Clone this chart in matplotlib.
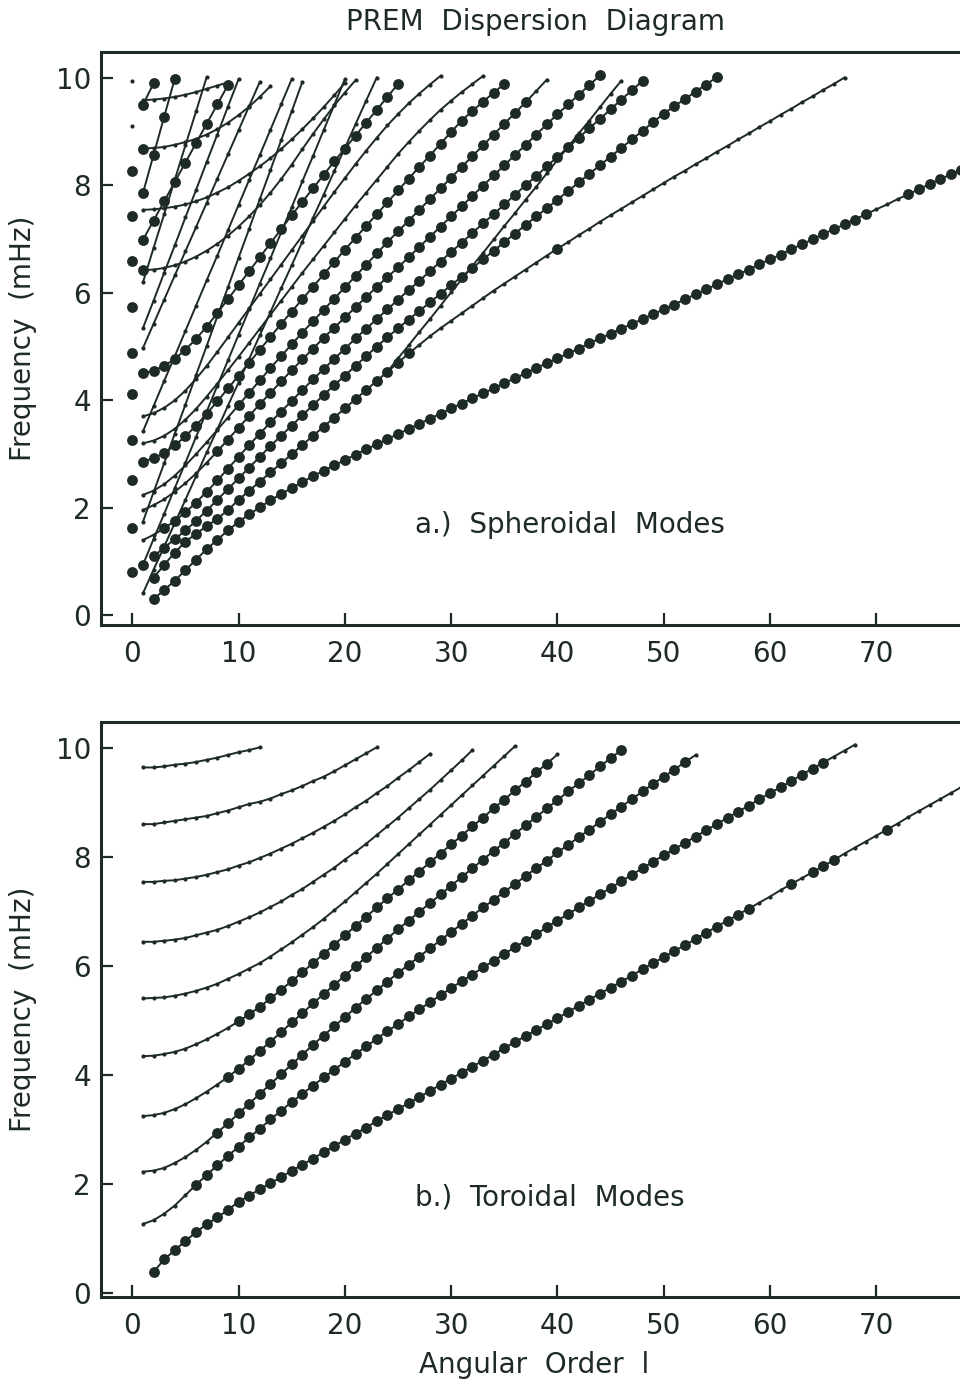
import matplotlib.pyplot as plt
import numpy as np

INK = '#1e2a26'
plt.rcParams['font.family'] = ['DejaVu Sans']

# ---------------- toroidal modes nT_l (mHz), values at consecutive l ----------------
T0_l0 = 2
T0 = [0.38, 0.61, 0.78, 0.95, 1.11, 1.26, 1.38, 1.52, 1.67, 1.78, 1.90, 2.01, 2.12, 2.24,
      2.35, 2.46, 2.58, 2.69, 2.81, 2.92, 3.03, 3.15, 3.26, 3.37, 3.48, 3.59, 3.70, 3.82,
      3.93, 4.04, 4.15, 4.26, 4.37, 4.49, 4.60, 4.71, 4.82, 4.93, 5.04, 5.15, 5.27, 5.38,
      5.49, 5.60, 5.71, 5.82, 5.94, 6.05, 6.16, 6.27, 6.38, 6.49, 6.61, 6.72, 6.83, 6.94,
      7.05, 7.16, 7.27, 7.39, 7.50, 7.61, 7.72, 7.83, 7.94, 8.06, 8.17, 8.28, 8.39, 8.50,
      8.61, 8.73, 8.84, 8.95, 9.06, 9.17, 9.28]
T1 = [1.26, 1.33, 1.45, 1.60, 1.79, 1.98, 2.16, 2.34, 2.51, 2.68, 2.85, 3.01, 3.18, 3.34,
      3.50, 3.65, 3.80, 3.95, 4.09, 4.24, 4.38, 4.52, 4.66, 4.80, 4.93, 5.07, 5.20, 5.33,
      5.46, 5.59, 5.72, 5.84, 5.97, 6.09, 6.22, 6.34, 6.46, 6.58, 6.71, 6.83, 6.95, 7.07,
      7.19, 7.31, 7.43, 7.55, 7.67, 7.79, 7.91, 8.03, 8.14, 8.26, 8.37, 8.49, 8.60, 8.72,
      8.83, 8.94, 9.06, 9.17, 9.28, 9.39, 9.51, 9.62, 9.73, 9.84, 9.95, 10.06]
T2 = [2.22, 2.24, 2.29, 2.38, 2.49, 2.62, 2.77, 2.94, 3.11, 3.29, 3.47, 3.65, 3.83, 4.01,
      4.19, 4.37, 4.55, 4.72, 4.89, 5.06, 5.23, 5.39, 5.55, 5.71, 5.87, 6.02, 6.17, 6.32,
      6.47, 6.62, 6.77, 6.92, 7.07, 7.21, 7.36, 7.50, 7.65, 7.79, 7.93, 8.08, 8.22, 8.36,
      8.50, 8.64, 8.78, 8.92, 9.06, 9.20, 9.34, 9.47, 9.60, 9.74, 9.87]
T3 = [3.24, 3.26, 3.30, 3.37, 3.46, 3.57, 3.69, 3.82, 3.96, 4.11, 4.27, 4.44, 4.61, 4.78,
      4.96, 5.13, 5.31, 5.48, 5.65, 5.82, 5.99, 6.16, 6.33, 6.50, 6.67, 6.83, 6.99, 7.15,
      7.31, 7.47, 7.63, 7.79, 7.95, 8.11, 8.26, 8.42, 8.58, 8.73, 8.89, 9.04, 9.20, 9.35,
      9.50, 9.66, 9.81, 9.96]
T4 = [4.34, 4.35, 4.38, 4.42, 4.48, 4.56, 4.65, 4.75, 4.86, 4.98, 5.11, 5.25, 5.40, 5.56,
      5.72, 5.88, 6.05, 6.22, 6.39, 6.56, 6.73, 6.90, 7.07, 7.24, 7.40, 7.57, 7.73, 7.90,
      8.06, 8.23, 8.39, 8.56, 8.72, 8.89, 9.05, 9.22, 9.38, 9.55, 9.71, 9.88]
T5 = [5.40, 5.41, 5.42, 5.45, 5.49, 5.54, 5.60, 5.67, 5.76, 5.85, 5.95, 6.05, 6.17, 6.30,
      6.43, 6.57, 6.71, 6.86, 7.02, 7.18, 7.35, 7.52, 7.69, 7.87, 8.05, 8.23, 8.41, 8.59,
      8.77, 8.95, 9.13, 9.31, 9.49, 9.67, 9.85, 10.03]
T6 = [6.44, 6.44, 6.46, 6.48, 6.51, 6.56, 6.61, 6.66, 6.73, 6.81, 6.89, 6.98, 7.08, 7.18,
      7.30, 7.41, 7.54, 7.67, 7.80, 7.95, 8.09, 8.24, 8.40, 8.56, 8.72, 8.89, 9.06, 9.23,
      9.41, 9.59, 9.77, 9.96]
T7 = [7.54, 7.54, 7.56, 7.57, 7.60, 7.63, 7.67, 7.72, 7.77, 7.84, 7.90, 7.98, 8.06, 8.15,
      8.24, 8.34, 8.44, 8.55, 8.66, 8.78, 8.91, 9.03, 9.17, 9.30, 9.45, 9.59, 9.74, 9.89]
T8 = [8.60, 8.60, 8.63, 8.66, 8.69, 8.72, 8.75, 8.80, 8.85, 8.91, 8.97, 9.01, 9.07, 9.15,
      9.22, 9.30, 9.39, 9.47, 9.57, 9.68, 9.79, 9.90, 10.01]
T9 = [9.64, 9.64, 9.66, 9.69, 9.71, 9.74, 9.78, 9.82, 9.87, 9.92, 9.96, 10.01]
# ranges of l drawn with a large dot
T0_big = [(2, 58), (62, 62), (64, 66), (71, 71)]
T1_big = [(6, 65)]
T2_big = [(8, 52)]
T3_big = [(9, 46)]
T4_big = [(10, 39)]

# ---------------- spheroidal modes nS_l (mHz) ----------------
S_radial = [0.81, 1.63, 2.51, 3.27, 4.11, 4.88, 5.74, 6.59, 7.42, 8.26, 9.09, 9.93]
S_radial_big = [1, 1, 1, 1, 1, 1, 1, 1, 1, 1, 0, 0]
S0 = [0.31, 0.47, 0.65, 0.84, 1.04, 1.23, 1.41, 1.58, 1.74, 1.88, 2.01, 2.14, 2.26, 2.37,
      2.48, 2.59, 2.69, 2.79, 2.89, 2.99, 3.09, 3.18, 3.28, 3.37, 3.47, 3.56, 3.66, 3.75,
      3.85, 3.94, 4.04, 4.13, 4.22, 4.32, 4.41, 4.50, 4.60, 4.69, 4.78, 4.87, 4.96, 5.06,
      5.15, 5.24, 5.33, 5.42, 5.51, 5.60, 5.69, 5.78, 5.88, 5.97, 6.06, 6.16, 6.25, 6.34,
      6.43, 6.53, 6.62, 6.71, 6.81, 6.90, 6.99, 7.09, 7.18, 7.27, 7.36, 7.46, 7.55, 7.64,
      7.74, 7.83, 7.92, 8.02, 8.11, 8.20, 8.29]
# mantle overtone branches (Rayleigh-like)
R1 = [0.70, 0.94, 1.17, 1.37, 1.52, 1.66, 1.80, 1.96, 2.15, 2.32, 2.49, 2.66, 2.83, 3.00,
      3.17, 3.34, 3.51, 3.68, 3.85, 4.02, 4.19, 4.36, 4.53, 4.70, 4.87, 5.03, 5.19, 5.34,
      5.48, 5.62, 5.76, 5.90, 6.04, 6.17, 6.30, 6.43, 6.56, 6.69, 6.82, 6.94, 7.07, 7.19,
      7.32, 7.44, 7.56, 7.68, 7.80, 7.92, 8.04, 8.16, 8.27, 8.39, 8.50, 8.62, 8.73, 8.85,
      8.96, 9.08, 9.19, 9.31, 9.42, 9.54, 9.65, 9.77, 9.88, 10.00]
R2 = [1.10, 1.26, 1.42, 1.58, 1.76, 1.95, 2.15, 2.35, 2.55, 2.75, 2.95, 3.15, 3.34, 3.53,
      3.72, 3.91, 4.10, 4.28, 4.46, 4.64, 4.82, 5.00, 5.17, 5.34, 5.50, 5.66, 5.82, 5.98,
      6.14, 6.30, 6.46, 6.62, 6.78, 6.94, 7.10, 7.26, 7.42, 7.57, 7.73, 7.89, 8.05, 8.21,
      8.37, 8.53, 8.69, 8.85, 9.01, 9.17, 9.33, 9.47, 9.60, 9.74, 9.87, 10.01]
R3 = [1.40, 1.50, 1.62, 1.76, 1.92, 2.10, 2.30, 2.51, 2.73, 2.95, 3.17, 3.38, 3.59, 3.79,
      3.99, 4.19, 4.39, 4.58, 4.77, 4.96, 5.15, 5.33, 5.51, 5.69, 5.87, 6.05, 6.22, 6.40,
      6.58, 6.76, 6.93, 7.11, 7.29, 7.46, 7.64, 7.82, 8.00, 8.17, 8.35, 8.53, 8.70, 8.88,
      9.06, 9.23, 9.41, 9.59, 9.76, 9.94]
R4 = [1.96, 2.05, 2.16, 2.30, 2.46, 2.64, 2.84, 3.05, 3.27, 3.49, 3.71, 3.93, 4.14, 4.35,
      4.56, 4.76, 4.96, 5.16, 5.35, 5.54, 5.73, 5.92, 6.11, 6.29, 6.47, 6.66, 6.85, 7.04,
      7.23, 7.42, 7.61, 7.80, 7.99, 8.18, 8.37, 8.56, 8.75, 8.94, 9.13, 9.32, 9.50, 9.68,
      9.86, 10.04]
R5 = [2.24, 2.32, 2.44, 2.60, 2.79, 3.00, 3.22, 3.45, 3.68, 3.91, 4.14, 4.37, 4.60, 4.82,
      5.04, 5.26, 5.47, 5.68, 5.89, 6.10, 6.31, 6.52, 6.73, 6.94, 7.14, 7.34, 7.54, 7.74,
      7.94, 8.14, 8.34, 8.54, 8.74, 8.94, 9.14, 9.34, 9.54, 9.75, 9.96]
R6 = [2.86, 2.92, 3.02, 3.16, 3.33, 3.53, 3.75, 3.98, 4.22, 4.46, 4.70, 4.94, 5.18, 5.42,
      5.65, 5.88, 6.11, 6.34, 6.57, 6.80, 7.02, 7.24, 7.46, 7.68, 7.90, 8.12, 8.34, 8.55,
      8.77, 8.99, 9.20, 9.38, 9.55, 9.72, 9.88]
R7 = [3.20, 3.25, 3.34, 3.47, 3.64, 3.84, 4.07, 4.31, 4.56, 4.81, 5.07, 5.33, 5.59, 5.85,
      6.11, 6.37, 6.62, 6.87, 7.12, 7.37, 7.62, 7.86, 8.10, 8.34, 8.58, 8.80, 9.01, 9.21,
      9.40, 9.57, 9.73, 9.88, 10.03]
R8 = [3.70, 3.76, 3.86, 4.00, 4.18, 4.40, 4.64, 4.90, 5.17, 5.44, 5.71, 5.98, 6.25, 6.52,
      6.79, 7.06, 7.33, 7.60, 7.87, 8.13, 8.39, 8.64, 8.88, 9.11, 9.32, 9.52, 9.70, 9.87,
      10.03]
R9 = [4.50, 4.55, 4.64, 4.77, 4.94, 5.14, 5.37, 5.62, 5.88, 6.14, 6.40, 6.66, 6.92, 7.18,
      7.44, 7.69, 7.94, 8.19, 8.44, 8.68, 8.92, 9.16, 9.40, 9.64, 9.88]
# straight branch leaving the first overtone near l = 24
F1 = [4.53, 4.78, 5.02, 5.27, 5.51, 5.76, 6.01, 6.25, 6.50, 6.74, 6.99, 7.24, 7.48, 7.73,
      7.97, 8.22, 8.47, 8.71, 8.96, 9.20, 9.45, 9.70, 9.94]
# steep core-sensitive branches
K1 = [0.41, 0.85, 1.28, 1.72, 2.15, 2.59, 3.03, 3.46, 3.90, 4.33, 4.77, 5.21, 5.64, 6.08,
      6.51, 6.95, 7.39, 7.82, 8.26, 8.69, 9.13, 9.57, 10.00]
K2 = [0.94, 1.42, 1.89, 2.37, 2.84, 3.32, 3.79, 4.27, 4.74, 5.22, 5.69, 6.17, 6.64, 7.12,
      7.59, 8.07, 8.54, 9.02, 9.49, 9.97]
K3 = [1.74, 2.29, 2.83, 3.38, 3.92, 4.47, 5.01, 5.56, 6.10, 6.65, 7.19, 7.74, 8.28, 8.83,
      9.37, 9.92]
K4 = [3.42, 3.89, 4.36, 4.82, 5.29, 5.76, 6.23, 6.69, 7.16, 7.63, 8.10, 8.56, 9.03, 9.50,
      9.97]
K5 = [4.97, 5.42, 5.87, 6.32, 6.77, 7.22, 7.67, 8.12, 8.57, 9.02, 9.47, 9.92]
K6 = [5.34, 5.85, 6.37, 6.88, 7.40, 7.91, 8.43, 8.94, 9.46, 9.97]
K7 = [6.19, 6.83, 7.46, 8.10, 8.74, 9.37, 10.01]
K8 = [6.98, 7.34, 7.70, 8.06, 8.42, 8.78, 9.14, 9.50, 9.86]
K9 = [7.85, 8.56, 9.27, 9.98]
K10 = [9.49, 9.89]
# flat shear-like branches
V1 = [7.54, 7.55, 7.57, 7.60, 7.64, 7.70, 7.77, 7.86, 7.96, 8.08, 8.21, 8.35, 8.50, 8.67,
      8.85, 9.04, 9.24, 9.45, 9.67, 9.90]
V2 = [8.68, 8.69, 8.71, 8.75, 8.80, 8.86, 8.94, 9.04, 9.16, 9.30, 9.46, 9.64, 9.84]
V3 = [9.58, 9.59, 9.61, 9.64, 9.68, 9.73, 9.79, 9.85, 9.91]
V4 = [6.42, 6.43, 6.46, 6.51, 6.58, 6.67, 6.78, 6.91, 7.06, 7.23, 7.42, 7.63, 7.86, 8.11,
      8.38, 8.67, 8.95, 9.22, 9.48, 9.72, 9.95]

toroidal = [(T0_l0, T0, T0_big), (1, T1, T1_big), (1, T2, T2_big), (1, T3, T3_big),
            (1, T4, T4_big), (1, T5, []), (1, T6, []), (1, T7, []), (1, T8, []), (1, T9, [])]
spheroidal = [(2, S0, [(2, 69), (73, 78)]),
              (2, R1, [(2, 26), (40, 40)]), (2, R2, [(2, 55)]), (1, R3, [(3, 48)]),
              (1, R4, [(8, 44)]), (1, R5, [(10, 37)]), (1, R6, [(1, 35)]),
              (1, R7, []), (1, R8, []), (1, R9, [(1, 25)]), (24, F1, []),
              (1, K1, []), (1, K2, [(1, 1)]), (1, K3, []), (1, K4, []), (1, K5, []),
              (1, K6, []), (1, K7, []), (1, K8, [(1, 9)]), (1, K9, [(1, 4)]),
              (1, K10, [(1, 2)]),
              (1, V1, []), (1, V2, [(1, 1)]), (1, V3, []), (1, V4, [(1, 1)])]


def draw_branch(ax, l0, freqs, big):
    l = np.arange(l0, l0 + len(freqs))
    f = np.array(freqs)
    mask = np.zeros(len(l), bool)
    for a, b in big:
        mask |= (l >= a) & (l <= b)
    ax.plot(l, f, '-', color=INK, lw=1.4, zorder=2)
    ax.plot(l[~mask], f[~mask], 'o', color=INK, ms=3.0, mew=0, zorder=3)
    ax.plot(l[mask], f[mask], 'o', color=INK, ms=7.8, mew=0, zorder=3)


def style_axes(ax, ylo):
    ax.set_xlim(-2.97, 79.84)
    ax.set_ylim(ylo, 10.48)
    ax.set_xticks(range(0, 80, 10))
    ax.set_yticks(range(0, 12, 2))
    for s in ax.spines.values():
        s.set_linewidth(2.2)
        s.set_color(INK)
    ax.tick_params(direction='in', length=8.6, width=1.6, color=INK, labelsize=20,
                   labelcolor=INK)
    ax.tick_params(axis='x', pad=11)
    ax.tick_params(axis='y', pad=7)
    ax.set_ylabel('Frequency  (mHz)', fontsize=20, color=INK)
    ax.yaxis.set_label_coords(-0.0724, 0.5)


fig = plt.figure(figsize=(9.6, 13.85), dpi=100)
W, H = 960.0, 1385.0
ax1 = fig.add_axes([100.7 / W, 1 - 625 / H, (981 - 100.7) / W, (625 - 51.7) / H])
ax2 = fig.add_axes([100.7 / W, 1 - 1296.5 / H, (981 - 100.7) / W, (1296.5 - 721.7) / H])

for l0, fr, big in spheroidal:
    draw_branch(ax1, l0, fr, big)
for i, fr in enumerate(S_radial):
    ax1.plot(0, fr, 'o', color=INK, ms=7.8 if S_radial_big[i] else 3.0, mew=0)
for l0, fr, big in toroidal:
    draw_branch(ax2, l0, fr, big)

style_axes(ax1, -0.177)
style_axes(ax2, -0.07)
ax1.text(26.6, 1.68, 'a.)  Spheroidal  Modes', fontsize=20, color=INK, va='center')
ax2.text(26.6, 1.74, 'b.)  Toroidal  Modes', fontsize=20, color=INK, va='center')
fig.text(534 / W, 1 - 1365 / H, 'Angular  Order  l', fontsize=20, color=INK,
         ha='center', va='center')
fig.text(536 / W, 1 - 22 / H, 'PREM  Dispersion  Diagram', fontsize=20, color=INK,
         ha='center', va='center')

fig.savefig('out.png', dpi=100)
